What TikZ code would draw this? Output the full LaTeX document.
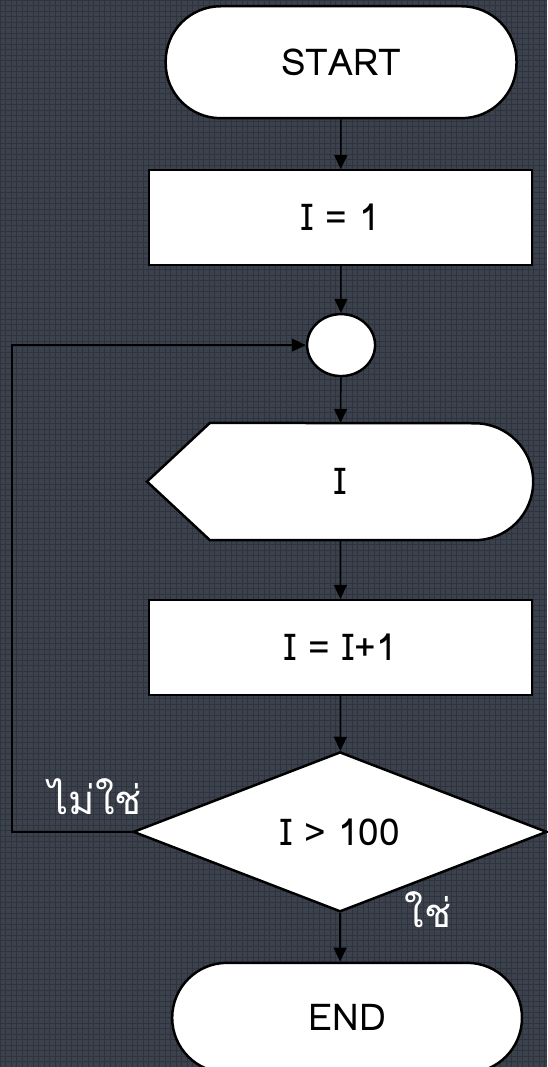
\documentclass[tikz,border=0pt]{standalone}
\usepackage{fontspec}
\newfontfamily\thaifont[Script=Thai]{Loma}
\usetikzlibrary{arrows.meta,shapes.geometric}
\definecolor{bgcol}{RGB}{60,66,77}
\definecolor{gridcol}{RGB}{47,52,60}

\begin{document}
\begin{tikzpicture}[x=1pt, y=-1pt, every node/.style={font=\thaifont\fontsize{37}{44}\selectfont}, >={Triangle[length=14pt,width=13pt]},
	term/.style={draw, line width=2.5pt, fill=white, rounded corners=55pt, minimum width=351pt, minimum height=112pt},
	box/.style={draw, line width=2pt, fill=white, minimum width=383pt, minimum height=95pt},
	flow/.style={->, line width=1.5pt}]
	% background
	\fill[bgcol] (0,0) rectangle (547,1067);
	\draw[gridcol, line width=0.5pt, step=5.5pt] (0,0) grid (547,1067);
	\useasboundingbox (0,0) rectangle (547,1067);
	% shapes
	\node[term] (start) at (341,62) {START};
	\node[box] (init) at (340.5,217.5) {I = 1};
	\node[draw, ellipse, line width=2.5pt, fill=white, minimum width=68pt, minimum height=62pt] (join) at (341,345) {};
	\node[minimum width=386pt, minimum height=117pt, inner sep=0pt] (show) at (340,481.5) {};
	\filldraw[fill=white, line width=2.5pt] ([xshift=63pt]show.north west) -- (show.west) -- ([xshift=63pt]show.south west)
		-- ([xshift=-58.5pt]show.south east) arc (-90:90:58.5pt) -- cycle;
	\node at (show) {I};
	\node[box] (incr) at (340.5,647.5) {I = I+1};
	\node[draw, diamond, line width=2.5pt, fill=white, inner sep=0pt, aspect=2.6, minimum width=414pt, minimum height=160pt] (test) at (340,832) {I > 100};
	\node[term, minimum width=350pt, minimum height=110pt] (stop) at (347,1018) {END};
	% labels
	\node[white, font=\thaifont\fontsize{40}{48}\selectfont] (no) at (95,797) {ไม่ใช่};
	\node[white, font=\thaifont\fontsize{40}{48}\selectfont] (yes) at (428,910) {ใช่};
	% connectors
	\draw[flow] (start) -- (init);
	\draw[flow] (init) -- (join);
	\draw[flow] (join) -- (show);
	\draw[flow] (show) -- (incr);
	\draw[flow] (incr) -- (test);
	\draw[flow] (test) -- (test|-stop.north);
	\draw[flow] (test.west) -- ++(-120,0) |- (join.west);
\end{tikzpicture}
\end{document}
